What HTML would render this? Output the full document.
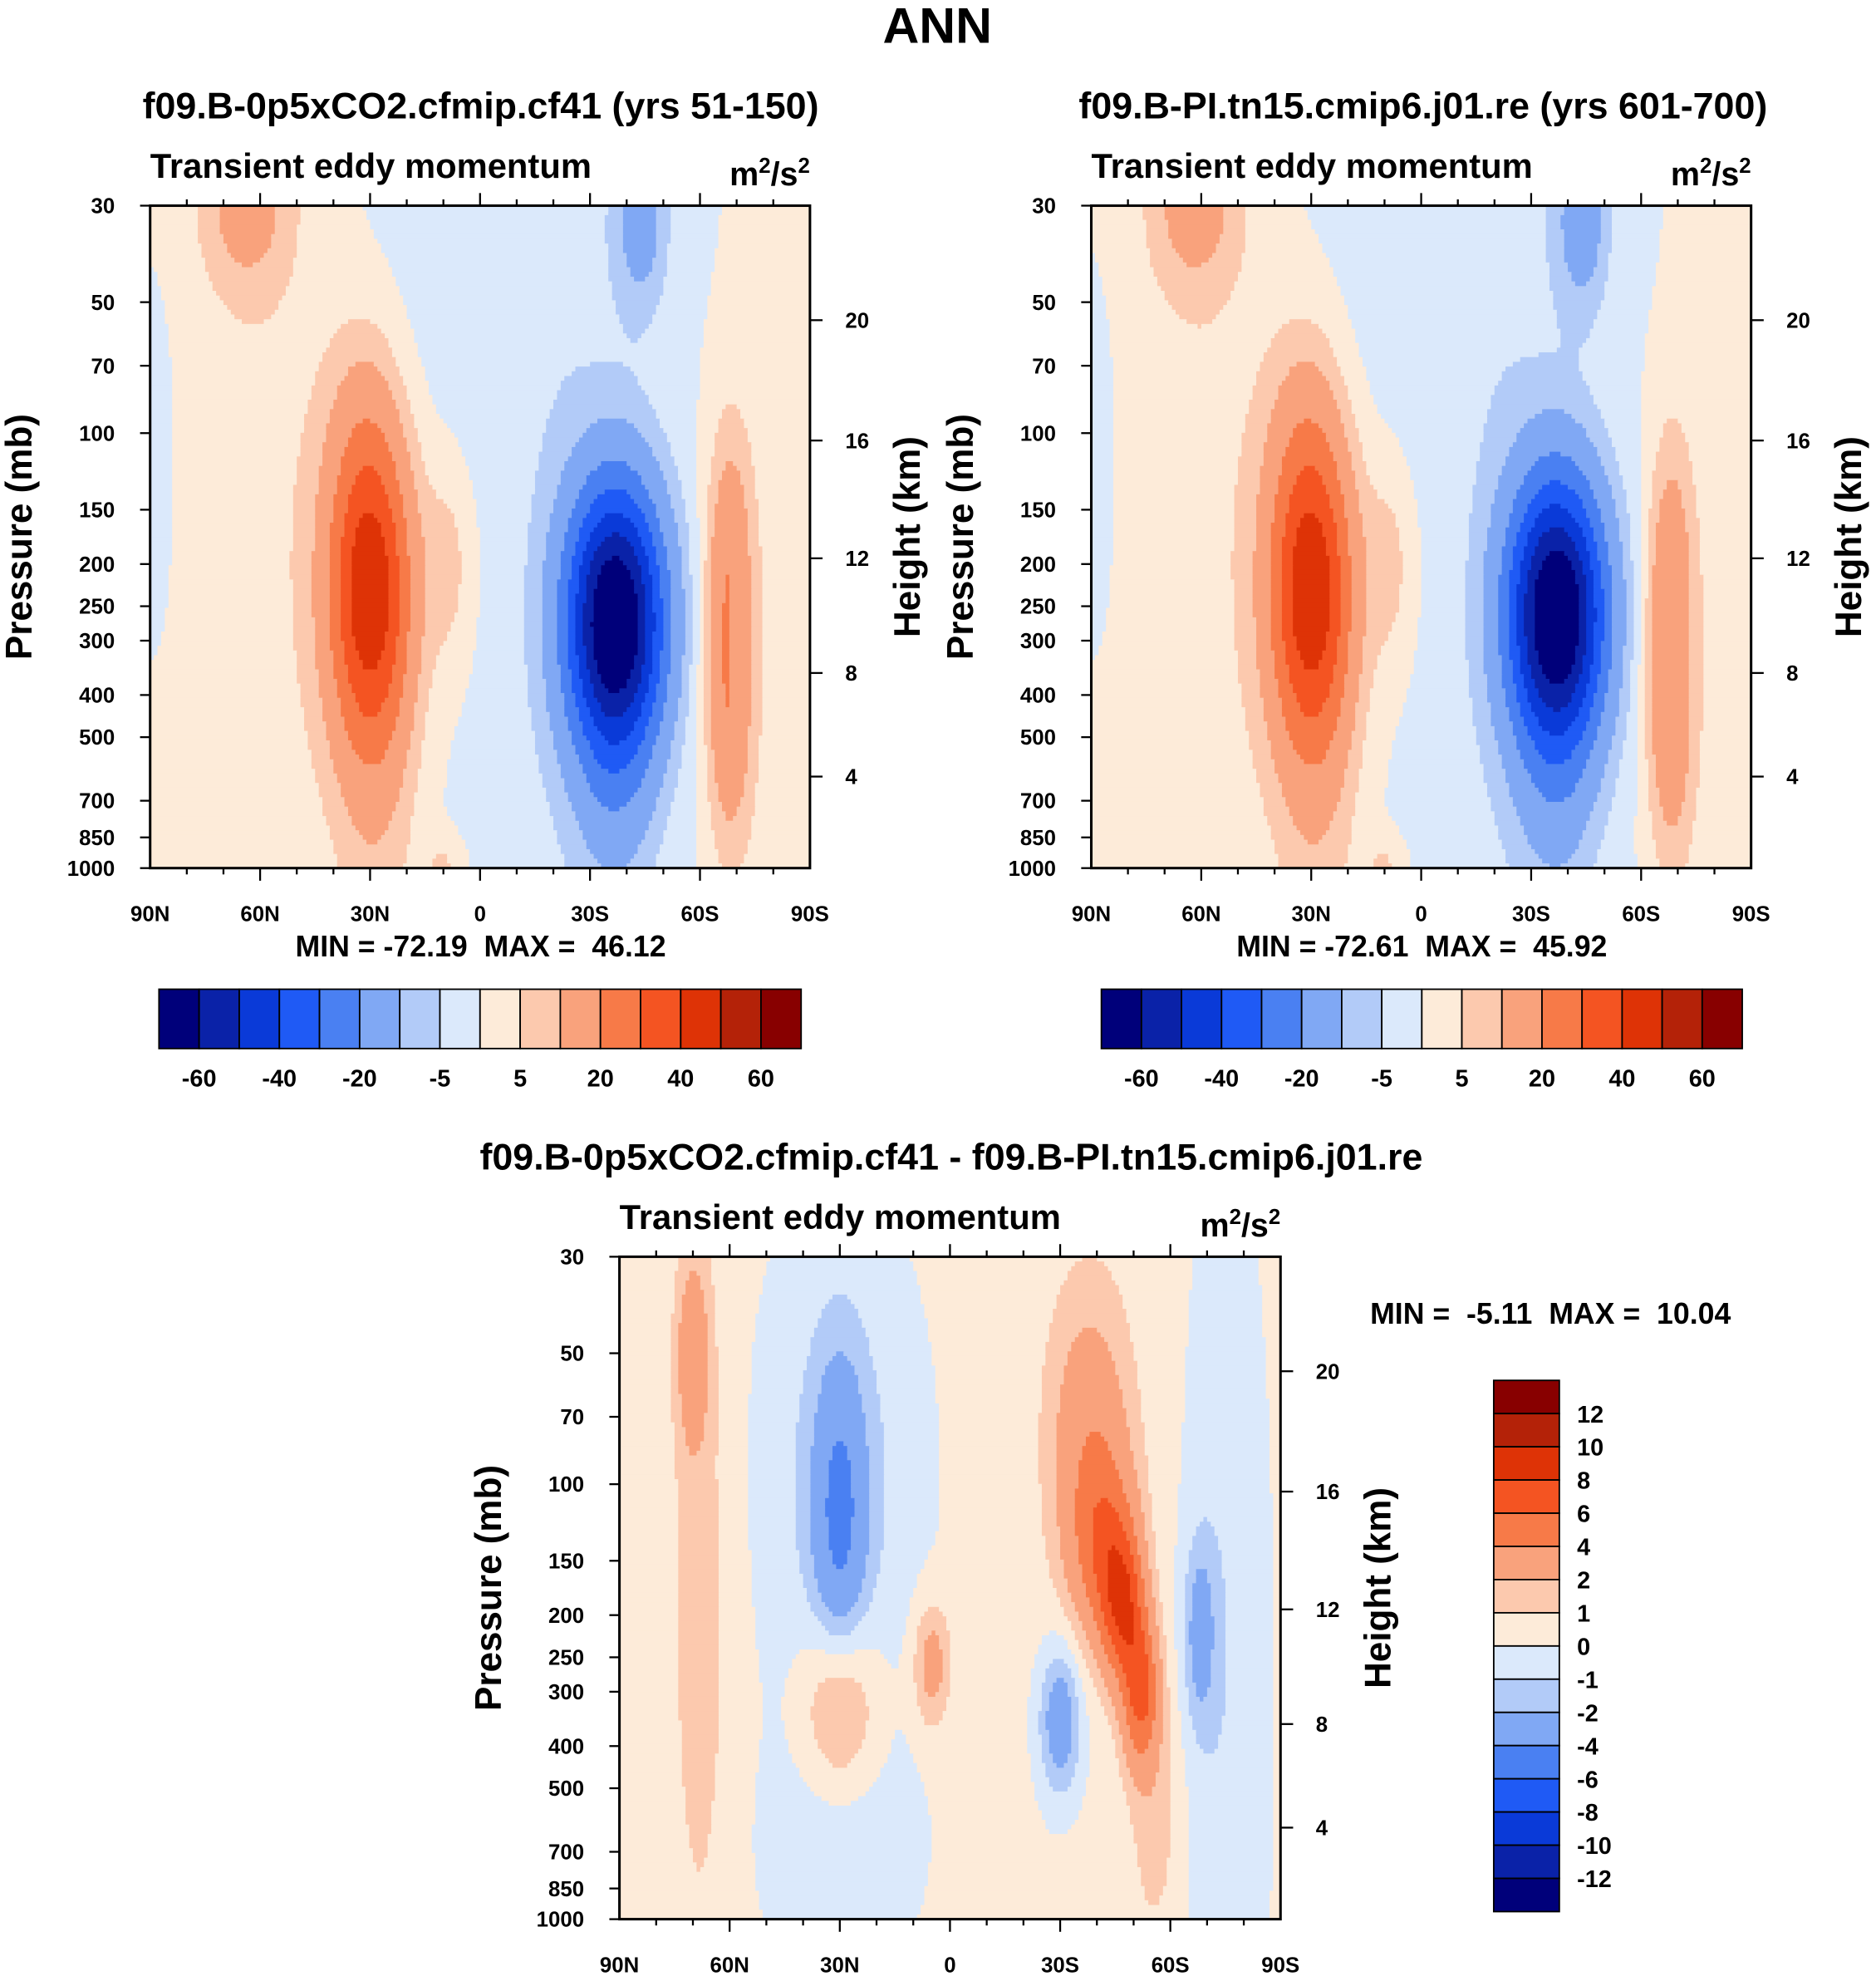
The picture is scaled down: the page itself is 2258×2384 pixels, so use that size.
<!DOCTYPE html>
<html><head><meta charset="utf-8"><style>
html,body{margin:0;padding:0;background:#fff}
svg{display:block}
text{font-family:"Liberation Sans",Arial,sans-serif;font-weight:bold;fill:#000}
</style></head><body>
<svg id="fig" xmlns="http://www.w3.org/2000/svg" width="2258" height="2384" viewBox="0 0 1487 1570">
<text x="743" y="34" font-size="40" text-anchor="middle">ANN</text>
</svg>
<script>
// ---- data: colour levels ----
const topLevels=[-60,-50,-40,-30,-20,-10,-5,0,5,10,20,30,40,50,60];
const topLabels=['-60','-40','-20','-5','5','20','40','60'];
const diffLevels=[-12,-10,-8,-6,-4,-2,-1,0,1,2,4,6,8,10,12];
const colors=['#00007a','#0a22a8','#0a3ad8','#1f5af5','#4a80f2','#80a8f4','#b2cbf8','#dbe9fb','#fdebd9','#fcc9ae','#f9a27c','#f77a48','#f45422','#de3306','#b42208','#880000'];
const pressTicks=[30,50,70,100,150,200,250,300,400,500,700,850,1000];
const heightTicks=[4,8,12,16,20];
const heightPres=[616,356,194,104,55];
const latTicks=[90,60,30,0,-30,-60,-90];
const latLabels=['90N','60N','30N','0','30S','60S','90S'];
// ---- data: field features (lat deg N+, pressure mb, amplitude, lat width deg, log10-p width) ----
const p1Lat=[30,28,-37,-68,64,-44,8,-70,10,-20,60,-82,88,-5,32,-37,58];
const p1Pres=[230,750,270,300,30,32,200,300,990,300,700,300,130,40,90,700,90];
const p1Amp=[46,6,-72,25,12,-13,7,-6,6,-3,2.5,2.5,-2,-3,5,-8,3.5];
const p1WLat=[8,8,9.4,4.5,9,5,5,3,4,20,18,8,4,25,8,8,15];
const p1WLog=[0.26,0.35,0.22,0.3,0.14,0.15,0.18,0.12,0.05,1.0,0.5,1.0,0.3,0.3,0.2,0.2,0.5];
const p2Lat=[30,28,-37,-68,62,-44,8,-70,10,-20,60,-82,88,-5,32,-37,58];
const p2Pres=[230,750,260,320,30,32,200,320,990,300,700,300,130,40,90,700,90];
const p2Amp=[46,6,-72,24,12,-14,7,-6,6,-3,2.5,2.5,-2,-3,5,-8,3.5];
const p2WLat=[8,8,9.4,4.5,9,5,5,3,4,20,18,8,4,25,8,8,15];
const p2WLog=[0.26,0.35,0.22,0.3,0.14,0.15,0.18,0.14,0.05,1.0,0.5,1.0,0.3,0.3,0.2,0.2,0.5];
const p3Lat=[70,68,30,30,5,-30,-47,-52,-42,-38,-56,-68,30,-75,30,85];
const p3Pres=[50,200,120,320,260,350,190,300,140,80,600,220,100,300,700,500];
const p3Amp=[2.8,1.2,-3.6,3.2,2.6,-3.5,6,6,4,3,1.2,-2.5,-1.6,-1.2,-1,-0.2];
const p3WLat=[3,6,5,7,3.5,4,4,3.5,6,8,5,3,15,8,15,5];
const p3WLog=[0.15,0.6,0.25,0.15,0.1,0.12,0.12,0.12,0.15,0.25,0.2,0.15,0.4,0.8,0.2,0.2];
const p3Bias=0.3;

const NS='http://www.w3.org/2000/svg';
const svg=document.getElementById('fig');
function mk(tag,attrs,parent){const e=document.createElementNS(NS,tag);for(const k in attrs)e.setAttribute(k,attrs[k]);(parent||svg).appendChild(e);return e;}
function txt(x,y,s,size,anchor,parent){const t=mk('text',{x:x,y:y,'font-size':size,'text-anchor':anchor||'middle'},parent);t.textContent=s;return t;}
function levelIndex(v,lv){let i=0;while(i<lv.length&&v>=lv[i])i++;return i;}

function drawPanel(id,x0,y0,W,H,lat,pres,amp,wl,wp,bias,levels){
  const g=mk('g',{});
  
  
  const xs=l=>x0+(90-l)/180*W;
  const ys=p=>y0+H-H*Math.log10(1000/p)/Math.log10(1000/30);
  const f=(la,p)=>{let v=bias;const lp=Math.log10(p);for(let i=0;i<lat.length;i++){const a=(la-lat[i])/wl[i],b=(lp-Math.log10(pres[i]))/wp[i];v+=amp[i]*Math.exp(-0.5*(a*a+b*b));}return v;};
  const nx=180,ny=140;
  const cells=mk('g',{},g);
  
  
  for(let j=0;j<ny;j++){
    const lp0=Math.log10(30)+j*(Math.log10(1000)-Math.log10(30))/ny, lp1=Math.log10(30)+(j+1)*(Math.log10(1000)-Math.log10(30))/ny;
    const pm=Math.pow(10,(lp0+lp1)/2);
    const ya=ys(Math.pow(10,lp0)),yb=ys(Math.pow(10,lp1));
    let i=0;
    while(i<nx){
      const la=90-(i+0.5)*180/nx;const c=levelIndex(f(la,pm),levels);
      let k=i+1;while(k<nx&&levelIndex(f(90-(k+0.5)*180/nx,pm),levels)===c)k++;
      const xa=xs(90-i*180/nx),xb=xs(90-k*180/nx);
      const r=mk('rect',{x:xa.toFixed(2),y:ya.toFixed(2),width:(xb-xa+0.6).toFixed(2),height:(yb-ya+0.6).toFixed(2),fill:colors[c]},cells);
      
      
      i=k;
    }
  }
  const fr=mk('rect',{x:x0,y:y0,width:W,height:H,fill:'none',stroke:'#000','stroke-width':2},g);
  
  
  pressTicks.forEach(p=>{const y=ys(p);mk('line',{x1:x0-8,y1:y,x2:x0,y2:y,stroke:'#000','stroke-width':1.5},g);
    const t=txt(x0-28,y+6,String(p),17,'end',g);});
  heightTicks.forEach((h,i)=>{const y=ys(heightPres[i]);mk('line',{x1:x0+W,y1:y,x2:x0+W+10,y2:y,stroke:'#000','stroke-width':1.5},g);
    const t=txt(x0+W+28,y+6,String(h),17,'start',g);});
  for(let l=-80;l<=80;l+=10){const x=xs(l),big=l%30===0;
    mk('line',{x1:x,y1:y0+H,x2:x,y2:y0+H+(big?10:5),stroke:'#000','stroke-width':1.5},g);
    mk('line',{x1:x,y1:y0,x2:x,y2:y0-(big?10:5),stroke:'#000','stroke-width':1.5},g);}
  latTicks.forEach((l,i)=>{const t=txt(xs(l),y0+H+42,latLabels[i],17,'middle',g);});
  let t=txt(0,0,'Pressure (mb)',29,'middle',g);t.setAttribute('transform',`translate(${x0-94},${y0+H/2}) rotate(-90)`);
  
  t=txt(0,0,'Height (km)',29,'middle',g);t.setAttribute('transform',`translate(${x0+W+87},${y0+H/2}) rotate(-90)`);
  
  t=txt(x0,y0-22,'Transient eddy momentum',27.5,'start',g);
  t=mk('text',{x:x0+W,y:y0-16,'font-size':26,'text-anchor':'end'},g);
  t.innerHTML='m<tspan dy="-10" font-size="17">2</tspan><tspan dy="10">/s</tspan><tspan dy="-10" font-size="17">2</tspan>';
  
}
function hbar(id,x0,y0,W,H,labels){
  const g=mk('g',{});
  const bw=W/colors.length;
  colors.forEach((c,i)=>{const r=mk('rect',{x:x0+i*bw,y:y0,width:bw,height:H,fill:c,stroke:'#000','stroke-width':1.2},g);});
  labels.forEach((s,i)=>{const t=txt(x0+(2*i+1)*bw,y0+H+30,s,19,'middle',g);});
}
drawPanel('panel-0p5xco2',119,163,523,525,p1Lat,p1Pres,p1Amp,p1WLat,p1WLog,0,topLevels);
drawPanel('panel-pi',865,163,523,525,p2Lat,p2Pres,p2Amp,p2WLat,p2WLog,0,topLevels);
drawPanel('panel-difference',491,996,524,525,p3Lat,p3Pres,p3Amp,p3WLat,p3WLog,p3Bias,diffLevels);
hbar('colorbar-left',126,784,509,47,topLabels);
hbar('colorbar-right',873,784,508,47,topLabels);
(function(){const g=mk('g',{});
  const x0=1184,y0=1094,W=52,H=421,bh=H/16;
  colors.slice().reverse().forEach((c,i)=>{const r=mk('rect',{x:x0,y:y0+i*bh,width:W,height:bh,fill:c,stroke:'#000','stroke-width':1.2},g);});
  diffLevels.slice().reverse().forEach((v,i)=>{const t=txt(x0+W+14,y0+(i+1)*bh+7,String(v),19,'start',g);});
})();
const titles=[[381,94,'f09.B-0p5xCO2.cfmip.cf41 (yrs 51-150)','panel-title-left'],[1128,94,'f09.B-PI.tn15.cmip6.j01.re (yrs 601-700)','panel-title-right'],[754,927,'f09.B-0p5xCO2.cfmip.cf41 - f09.B-PI.tn15.cmip6.j01.re','panel-title-difference'],
 [381,758,'MIN = -72.19  MAX =  46.12','minmax-left'],[1127,758,'MIN = -72.61  MAX =  45.92','minmax-right'],[1229,1049,'MIN =  -5.11  MAX =  10.04','minmax-difference']];
titles.forEach(a=>{const t=txt(a[0],a[1],a[2],a[3].startsWith('minmax')?23.5:29.5,'middle');t.setAttribute('xml:space','preserve');t.style.whiteSpace='pre';
  });
</script>
</body></html>
